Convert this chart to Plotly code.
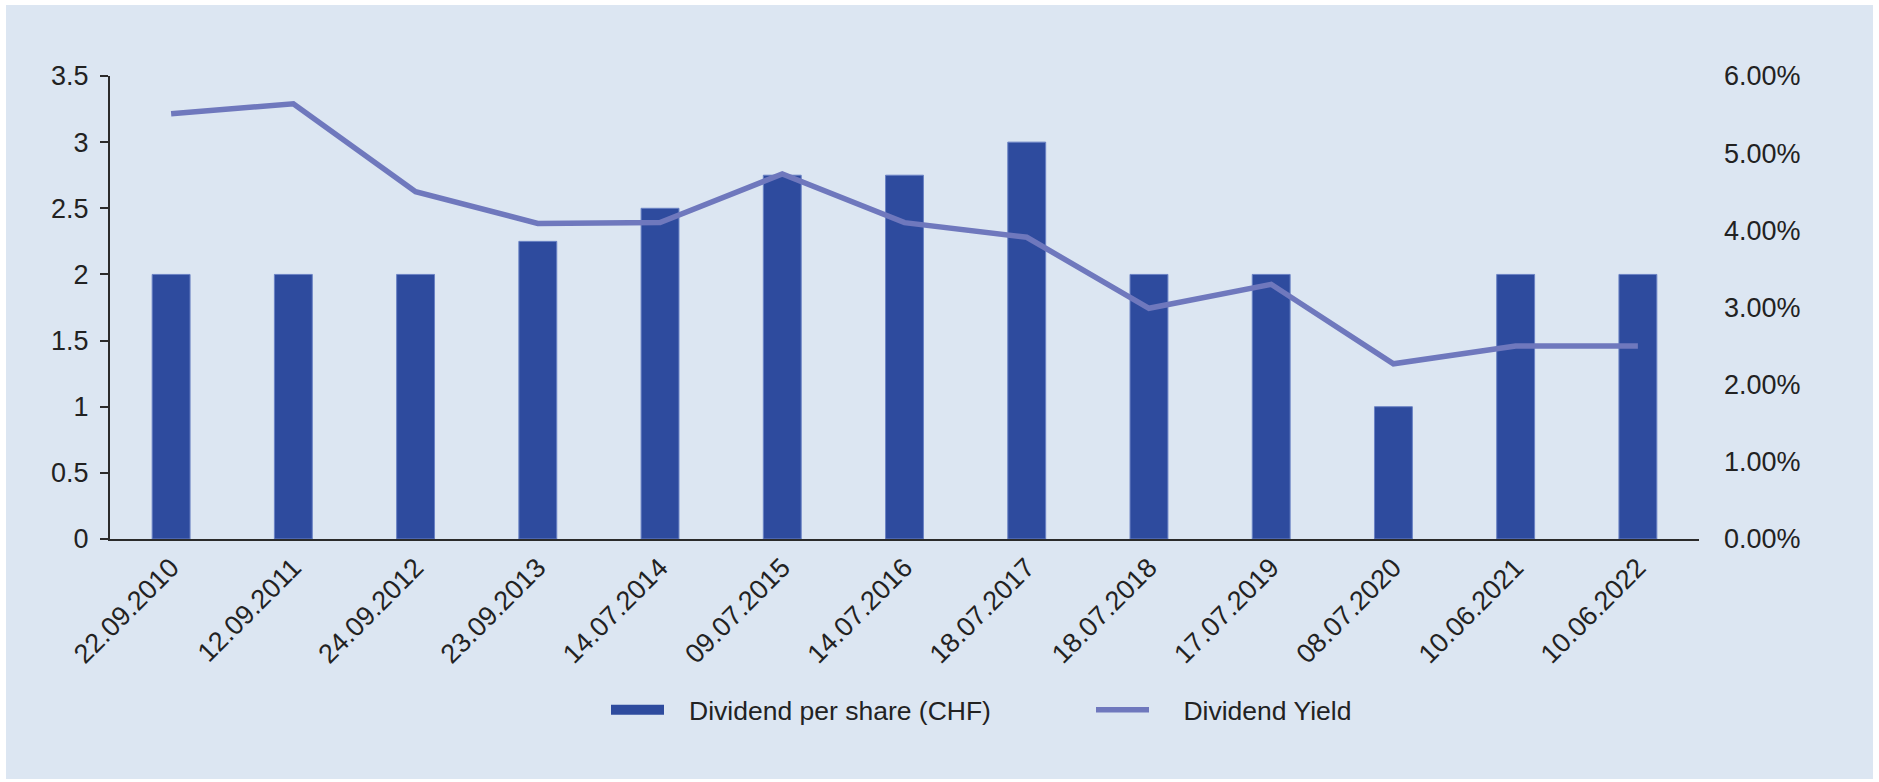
import plotly.graph_objects as go

dates = ["22.09.2010", "12.09.2011", "24.09.2012", "23.09.2013", "14.07.2014",
         "09.07.2015", "14.07.2016", "18.07.2017", "18.07.2018", "17.07.2019",
         "08.07.2020", "10.06.2021", "10.06.2022"]
dividend_chf = [2, 2, 2, 2.25, 2.5, 2.75, 2.75, 3, 2, 2, 1, 2, 2]
dividend_yield = [0.0551, 0.0564, 0.0450, 0.0409, 0.0410, 0.0473, 0.0410,
                  0.0391, 0.0299, 0.0330, 0.0227, 0.0250, 0.0250]
series_names = ["Dividend per share (CHF)", "Dividend Yield"]

W, H = 1879, 782
ML, MR, MT, MB = 110, 180, 76, 243
PW, PH = W - ML - MR, H - MT - MB

BG = "#dce6f2"
BAR = "#2e4b9e"
LINE = "#6f78bd"
AX = "#2b2b2b"
TXT = "#222222"
FONT = "Arial, Liberation Sans, sans-serif"
FS = 27
NB = "\u00a0"
THIN = "\u2009"

fig = go.Figure()
fig.add_trace(go.Bar(
    x=dates, y=dividend_chf, name=series_names[0],
    marker=dict(color=BAR, line=dict(color="#6a82c4", width=1)),
    width=0.31, yaxis="y", showlegend=False, legendgroup="dps",
))
# legend entry for the bars, drawn as a wide block like the original
fig.add_trace(go.Scatter(
    x=[None], y=[None], name=NB * 2 + THIN + series_names[0], mode="lines",
    line=dict(color=BAR, width=16), yaxis="y", legendgroup="dps",
    hoverinfo="skip",
))
fig.add_trace(go.Scatter(
    x=dates, y=dividend_yield, name=NB * 4 + series_names[1], mode="lines",
    line=dict(color=LINE, width=5.5), yaxis="y2",
))

def px_x(p):
    return (p - ML) / PW

def px_y(p):
    return (H - MB - p) / PH

fig.add_shape(type="rect", xref="paper", yref="paper",
              x0=px_x(6), x1=px_x(1873), y0=px_y(779), y1=px_y(5),
              fillcolor=BG, line=dict(width=0), layer="below")

fig.update_layout(
    width=W, height=H,
    margin=dict(l=ML, r=MR, t=MT, b=MB, pad=0),
    paper_bgcolor="white",
    plot_bgcolor="rgba(0,0,0,0)",
    font=dict(family=FONT, size=FS, color=TXT),
    showlegend=True,
    legend=dict(
        orientation="h", x=px_x(606), xanchor="left",
        y=px_y(710), yanchor="middle",
        bgcolor="rgba(0,0,0,0)", itemwidth=53,
        entrywidth=417, entrywidthmode="pixels",
        font=dict(size=26.5, color=TXT),
        traceorder="normal",
    ),
    xaxis=dict(
        type="category", showline=True, linecolor=AX, linewidth=2,
        ticks="", tickangle=-45, showgrid=False, zeroline=False,
        tickfont=dict(size=FS, color=TXT),
    ),
    yaxis=dict(
        range=[0, 3.5], dtick=0.5, showline=True, linecolor=AX, linewidth=2,
        ticks="outside", ticklen=8, tickwidth=2, tickcolor=AX,
        showgrid=False, zeroline=False, ticklabelstandoff=6,
        tickfont=dict(size=FS, color=TXT),
    ),
    yaxis2=dict(
        range=[0, 0.06], dtick=0.01, tickformat=".2%", overlaying="y",
        side="right", showline=False, ticks="", showgrid=False,
        zeroline=False, ticklabelstandoff=24,
        tickfont=dict(size=FS, color=TXT),
    ),
    bargap=0.69,
)

fig.write_html("out.html", config={"displayModeBar": False},
               post_script="document.body.style.margin='0';")
